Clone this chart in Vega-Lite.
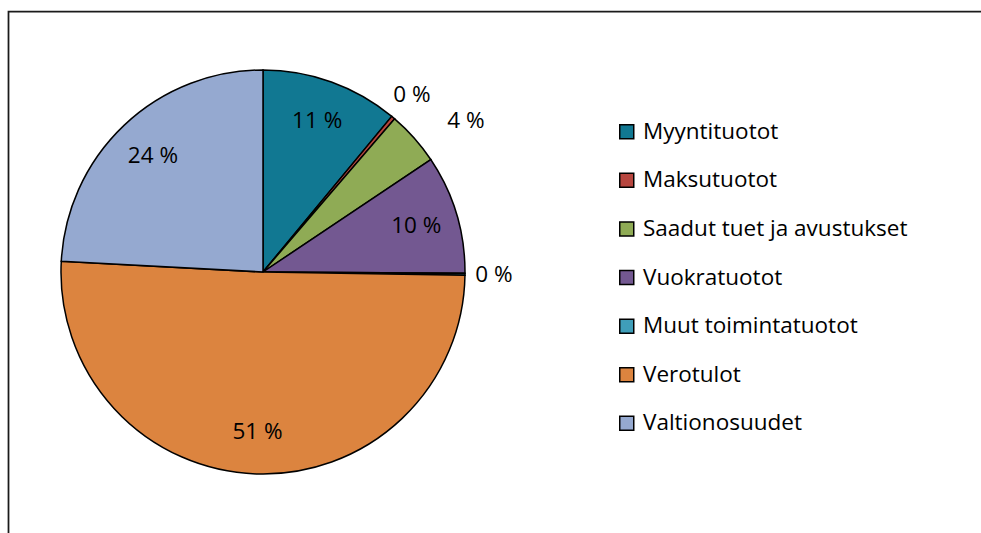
{
  "$schema": "https://vega.github.io/schema/vega-lite/v6.json",
  "width": 990,
  "height": 540,
  "autosize": {"type": "none"},
  "padding": {"left": 8.5, "top": 11.5, "right": 0, "bottom": 0},
  "background": "white",
  "config": {
    "view": {"stroke": "#1a1a1a", "strokeWidth": 1.75},
    "text": {"font": "Open Sans"},
    "legend": {
      "orient": "none",
      "legendX": 607,
      "legendY": 109,
      "symbolType": "square",
      "symbolSize": 196,
      "symbolStrokeColor": "black",
      "symbolStrokeWidth": 1.5,
      "symbolOpacity": 1,
      "labelFont": "Open Sans",
      "labelFontSize": 22.5,
      "labelColor": "black",
      "labelOffset": 5,
      "rowPadding": 25.6,
      "labelLimit": 400
    }
  },
  "data": {
    "values": [
      {"nimi": "Myyntituotot", "nro": 1, "osuus": 11.0, "label": "11 %"},
      {"nimi": "Maksutuotot", "nro": 2, "osuus": 0.3, "label": "0 %"},
      {"nimi": "Saadut tuet ja avustukset", "nro": 3, "osuus": 4.3, "label": "4 %"},
      {"nimi": "Vuokratuotot", "nro": 4, "osuus": 9.5, "label": "10 %"},
      {"nimi": "Muut toimintatuotot", "nro": 5, "osuus": 0.15, "label": "0 %"},
      {"nimi": "Verotulot", "nro": 6, "osuus": 50.6, "label": "51 %"},
      {"nimi": "Valtionosuudet", "nro": 7, "osuus": 24.15, "label": "24 %"}
    ]
  },
  "encoding": {
    "theta": {"field": "osuus", "type": "quantitative", "stack": true},
    "order": {"field": "nro", "type": "quantitative"},
    "x": {"datum": 254.5, "type": "quantitative", "scale": {"domain": [0, 990], "nice": false, "zero": false}, "axis": null},
    "y": {"datum": 260.5, "type": "quantitative", "scale": {"domain": [0, 540], "nice": false, "zero": false, "reverse": true}, "axis": null}
  },
  "layer": [
    {
      "mark": {"type": "arc", "outerRadius": 202, "stroke": "black", "strokeWidth": 1.5},
      "encoding": {
        "color": {
          "field": "nimi",
          "type": "nominal",
          "title": null,
          "sort": null,
          "scale": {
            "domain": ["Myyntituotot", "Maksutuotot", "Saadut tuet ja avustukset", "Vuokratuotot", "Muut toimintatuotot", "Verotulot", "Valtionosuudet"],
            "range": ["#117892", "#b7463f", "#8fab55", "#735891", "#3f9eb9", "#dc843f", "#95a9d0"]
          }
        }
      }
    },
    {
      "mark": {"type": "text", "radius": 160, "fontSize": 22.5, "color": "black"},
      "encoding": {
        "text": {"condition": {"test": "datum.osuus >= 5", "field": "label"}, "value": ""}
      }
    },
    {
      "mark": {"type": "text", "radius": 231, "fontSize": 22.5, "color": "black"},
      "encoding": {
        "text": {"condition": {"test": "datum.osuus < 1", "field": "label"}, "value": ""}
      }
    },
    {
      "mark": {"type": "text", "radius": 253, "thetaOffset": 0.085, "fontSize": 22.5, "color": "black"},
      "encoding": {
        "text": {"condition": {"test": "datum.nimi === 'Saadut tuet ja avustukset'", "field": "label"}, "value": ""}
      }
    }
  ]
}
